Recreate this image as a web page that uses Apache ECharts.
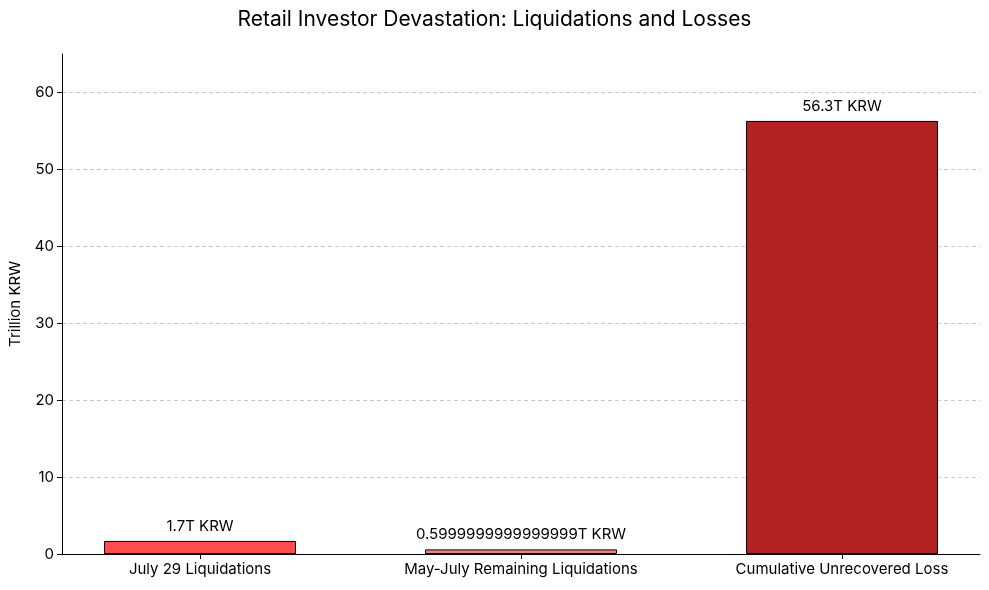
<!DOCTYPE html>
<html>
<head>
<meta charset="utf-8">
<script src="https://cdn.jsdelivr.net/npm/echarts@6/dist/echarts.min.js"></script>
<style>
    html, body { margin: 0; padding: 0; background: #fff; }
    #main { width: 989px; height: 590px; }
</style>
</head>
<body>
<div id="main"></div>
<script>
const categories = ['July 29 Liquidations', 'May-July Remaining Liquidations', 'Cumulative Unrecovered Loss'];
const values = [1.7, 0.5999999999999999, 56.3];
const barColors = ['#ff4c4c', '#f08080', '#b22222'];
const yTicks = [0, 10, 20, 30, 40, 50, 60];

let myChart = echarts.init(document.getElementById('main'));
let font = 'Inter, "Open Sans", sans-serif';

let option = {
    animation: false,
    textStyle: { fontFamily: font },
    title: {
        text: 'Retail Investor Devastation: Liquidations and Losses',
        left: 'center',
        top: 4,
        textStyle: { fontSize: 21, fontWeight: 'normal', color: '#000', fontFamily: font }
    },
    grid: { left: 62, right: 9, top: 54, bottom: 36, outerBoundsMode: 'none' },
    xAxis: {
        type: 'value',
        min: -0.43,
        max: 2.43,
        splitLine: { show: false },
        axisLine: { lineStyle: { color: '#000' } },
        axisTick: { show: true, customValues: [0, 1, 2], length: 5, lineStyle: { color: '#000' } },
        axisLabel: {
            customValues: [0, 1, 2],
            color: '#000',
            fontSize: 15,
            margin: 8,
            formatter: v => categories[Math.round(v)]
        }
    },
    yAxis: {
        type: 'value',
        name: 'Trillion KRW',
        nameLocation: 'middle',
        nameGap: 39,
        nameTextStyle: { fontSize: 15, color: '#000' },
        min: 0,
        max: 65,
        interval: 10,
        axisLine: { show: true, onZero: false, lineStyle: { color: '#000' } },
        axisTick: { show: true, customValues: yTicks, length: 5, lineStyle: { color: '#000' } },
        axisLabel: {
            customValues: yTicks,
            color: '#000',
            fontSize: 15
        },
        splitLine: { show: true, showMaxLine: true, showMinLine: false, lineStyle: { color: '#c8c8c8', type: [4, 3] } }
    },
    series: [{
        type: 'bar',
        barWidth: 192,
        data: values.map((v, i) => ({
            value: [i, v],
            itemStyle: { color: barColors[i], borderColor: '#000', borderWidth: 1 }
        })),
        label: {
            show: true,
            position: 'top',
            distance: 7,
            color: '#000',
            fontSize: 15,
            formatter: p => p.value[1] + 'T KRW'
        }
    }]
};
myChart.setOption(option);
</script>
</body>
</html>
